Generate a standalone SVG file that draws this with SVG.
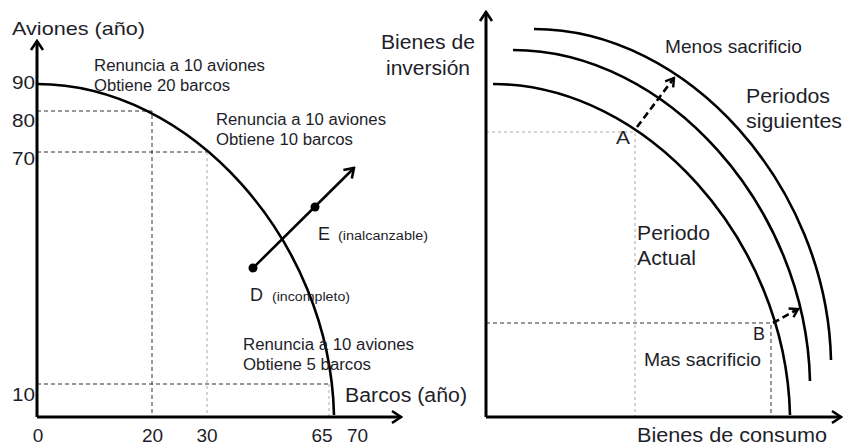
<svg xmlns="http://www.w3.org/2000/svg" width="843" height="444" viewBox="0 0 843 444">
<defs>
<style>
text{font-family:"Liberation Sans",Arial,sans-serif;fill:#1e1e2a}
.lg{font-size:19px}
.xl{font-size:20px}
.md{font-size:16px}
.sm{font-size:12px}
.ax{stroke:#000;stroke-width:3;fill:none}
.cv{stroke:#000;stroke-width:2.6;fill:none}
.dk{stroke:#333;stroke-width:1;stroke-dasharray:4,3;fill:none}
.lt{stroke:#aaa;stroke-width:1;stroke-dasharray:3,3;fill:none}
.ar{stroke:#000;stroke-width:2.6;fill:none}
.da{stroke:#000;stroke-width:2.6;stroke-dasharray:7,4;fill:none}
</style>
<marker id="ah" markerUnits="userSpaceOnUse" markerWidth="16" markerHeight="16" viewBox="0 0 16 16" refX="14" refY="8" orient="auto">
<path d="M5,2 L14,8 L5,14" fill="none" stroke="#000" stroke-width="2.6"/>
</marker>
<marker id="ahs" markerUnits="userSpaceOnUse" markerWidth="14" markerHeight="14" viewBox="0 0 14 14" refX="12" refY="7" orient="auto">
<path d="M4,2 L12,7 L4,12" fill="none" stroke="#000" stroke-width="2.4"/>
</marker>
<path id="ppf" d="M37,84 C190,84 330,240 334,415"/>
</defs>

<g id="left-chart">
<g id="guides-left">
<path class="dk" d="M37,111 H152 V417"/>
<path class="dk" d="M37,152 H207"/>
<path class="lt" d="M207,152 V417"/>
<path class="dk" d="M37,384 H329"/>
<path class="lt" d="M329,384 V417"/>
</g>
<g id="axes-left">
<path class="ax" d="M37,417 V41" marker-end="url(#ah)"/>
<path class="ax" d="M37,417 H401" marker-end="url(#ah)"/>
</g>
<g id="ppf-left"><use href="#ppf" class="cv"/></g>
<g id="connectors">
<path class="ar" d="M253,268 L354,168" marker-end="url(#ah)"/>
</g>
<g id="point-D"><circle cx="253" cy="268" r="4.5" fill="#000"/>
<text x="250" y="301" class="lg" textLength="13" lengthAdjust="spacingAndGlyphs">D</text><text x="272" y="301" class="sm" textLength="78" lengthAdjust="spacingAndGlyphs">(incompleto)</text></g>
<g id="point-E"><circle cx="315" cy="207" r="4.5" fill="#000"/>
<text x="318" y="240" class="lg" textLength="12" lengthAdjust="spacingAndGlyphs">E</text><text x="338" y="240" class="sm" textLength="90" lengthAdjust="spacingAndGlyphs">(inalcanzable)</text></g>
<g id="labels-left">
<text x="12" y="35" class="lg" textLength="133" lengthAdjust="spacingAndGlyphs">Aviones (año)</text>
<text x="345" y="402" class="xl" textLength="122" lengthAdjust="spacingAndGlyphs">Barcos (año)</text>
<text x="12" y="89" class="lg" textLength="23" lengthAdjust="spacingAndGlyphs">90</text>
<text x="12" y="127" class="lg" textLength="23" lengthAdjust="spacingAndGlyphs">80</text>
<text x="12" y="165" class="lg" textLength="23" lengthAdjust="spacingAndGlyphs">70</text>
<text x="12" y="401" class="lg" textLength="23" lengthAdjust="spacingAndGlyphs">10</text>
<text x="38" y="442" class="lg" text-anchor="middle">0</text>
<text x="152.5" y="442" class="lg" text-anchor="middle">20</text>
<text x="207" y="442" class="lg" text-anchor="middle">30</text>
<text x="322" y="442" class="lg" text-anchor="middle">65</text>
<text x="357.5" y="442" class="lg" text-anchor="middle">70</text>
<text x="94" y="71" class="md" textLength="171" lengthAdjust="spacingAndGlyphs">Renuncia a 10 aviones</text>
<text x="94" y="91" class="md" textLength="136" lengthAdjust="spacingAndGlyphs">Obtiene 20 barcos</text>
<text x="216" y="125" class="md" textLength="170" lengthAdjust="spacingAndGlyphs">Renuncia a 10 aviones</text>
<text x="216" y="145" class="md" textLength="137" lengthAdjust="spacingAndGlyphs">Obtiene 10 barcos</text>
<text x="243" y="350" class="md" textLength="171" lengthAdjust="spacingAndGlyphs">Renuncia a 10 aviones</text>
<text x="243" y="370" class="md" textLength="128" lengthAdjust="spacingAndGlyphs">Obtiene 5 barcos</text>
</g>
</g>

<g id="right-chart">
<g id="guides-right">
<path class="lt" d="M486,132 H635 V417"/>
<path class="dk" d="M486,323 H771 V417"/>
</g>
<g id="axes-right">
<path class="ax" d="M486,417 V12" marker-end="url(#ah)"/>
<path class="ax" d="M486,417 H841" marker-end="url(#ah)"/>
</g>
<g id="ppf-actual"><use href="#ppf" class="cv" transform="translate(456,0)"/></g>
<g id="ppf-next1"><use href="#ppf" class="cv" transform="translate(476,-34)"/></g>
<g id="ppf-next2"><use href="#ppf" class="cv" transform="translate(497,-55)"/></g>
<g id="shift-arrows">
<path class="da" d="M637,127 L674,78" marker-end="url(#ahs)"/>
<path class="da" d="M773,323 L798,309" marker-end="url(#ahs)"/>
</g>
<g id="labels-right">
<text x="381" y="49" class="xl" textLength="94" lengthAdjust="spacingAndGlyphs">Bienes de</text>
<text x="386" y="75" class="xl" textLength="84" lengthAdjust="spacingAndGlyphs">inversión</text>
<text x="665" y="53" class="lg" textLength="137" lengthAdjust="spacingAndGlyphs">Menos sacrificio</text>
<text x="746" y="103" class="xl" textLength="84" lengthAdjust="spacingAndGlyphs">Periodos</text>
<text x="746" y="128" class="xl" textLength="96" lengthAdjust="spacingAndGlyphs">siguientes</text>
<text x="616" y="144" class="lg" textLength="14" lengthAdjust="spacingAndGlyphs">A</text>
<text x="637" y="240" class="xl" textLength="73" lengthAdjust="spacingAndGlyphs">Periodo</text>
<text x="637" y="265" class="xl" textLength="59" lengthAdjust="spacingAndGlyphs">Actual</text>
<text x="753" y="340" class="lg" textLength="12" lengthAdjust="spacingAndGlyphs">B</text>
<text x="644" y="366" class="lg" textLength="117" lengthAdjust="spacingAndGlyphs">Mas sacrificio</text>
<text x="637" y="442" class="xl" textLength="190" lengthAdjust="spacingAndGlyphs">Bienes de consumo</text>
</g>
</g>
</svg>
